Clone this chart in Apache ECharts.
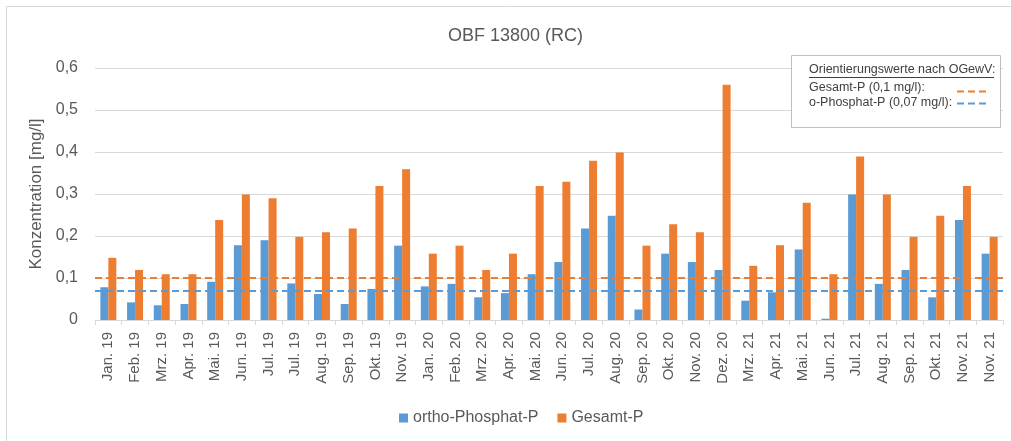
<!DOCTYPE html>
<html>
<head>
<meta charset="utf-8">
<script src="https://cdn.jsdelivr.net/npm/echarts@6/dist/echarts.min.js"></script>
<style>
  html, body { margin: 0; padding: 0; background: #fff; }
  #chart { width: 1011px; height: 441px; }
</style>
</head>
<body>
<div id="chart"></div>
<script>
// Monate (x-Achse)
var months = ['Jan. 19', 'Feb. 19', 'Mrz. 19', 'Apr. 19', 'Mai. 19', 'Jun. 19', 'Jul. 19', 'Jul. 19',
  'Aug. 19', 'Sep. 19', 'Okt. 19', 'Nov. 19', 'Jan. 20', 'Feb. 20', 'Mrz. 20', 'Apr. 20', 'Mai. 20',
  'Jun. 20', 'Jul. 20', 'Aug. 20', 'Sep. 20', 'Okt. 20', 'Nov. 20', 'Dez. 20', 'Mrz. 21', 'Apr. 21',
  'Mai. 21', 'Jun. 21', 'Jul. 21', 'Aug. 21', 'Sep. 21', 'Okt. 21', 'Nov. 21', 'Nov. 21'];

var orthoPhosphat = [0.078, 0.042, 0.035, 0.038, 0.091, 0.178, 0.19, 0.087, 0.062, 0.038, 0.074, 0.177,
  0.08, 0.086, 0.054, 0.064, 0.109, 0.138, 0.218, 0.248, 0.025, 0.158, 0.138, 0.119, 0.046, 0.066,
  0.168, 0.003, 0.299, 0.086, 0.119, 0.054, 0.238, 0.158];

var gesamtP = [0.148, 0.119, 0.109, 0.109, 0.238, 0.299, 0.29, 0.198, 0.209, 0.218, 0.319, 0.359,
  0.158, 0.177, 0.119, 0.158, 0.319, 0.329, 0.379, 0.399, 0.177, 0.228, 0.209, 0.56, 0.129, 0.178,
  0.279, 0.109, 0.389, 0.299, 0.198, 0.248, 0.319, 0.198];

// Orientierungswerte nach OGewV
var limitGesamtP = 0.1;
var limitOrtho = 0.071;

var yTicks = [0, 0.1, 0.2, 0.3, 0.4, 0.5, 0.6];

var font = 'Liberation Sans';
var grey = '#595959';
var blue = '#5B9BD5';
var orange = '#ED7D31';

var chart = echarts.init(document.getElementById('chart'));

var options = {
  animation: false,
  textStyle: { fontFamily: font, color: grey },
  title: {
    text: 'OBF 13800 (RC)',
    left: 443,
    top: 22,
    textStyle: { fontFamily: font, fontSize: 18, fontWeight: 'normal', color: grey }
  },
  legend: {
    top: 405,
    left: 394,
    itemWidth: 9,
    itemHeight: 9,
    itemGap: 19,
    icon: 'rect',
    textStyle: { fontFamily: font, fontSize: 16, color: grey },
    data: ['ortho-Phosphat-P', 'Gesamt-P']
  },
  grid: { left: 95, right: 8, top: 68, bottom: 121 },
  xAxis: {
    type: 'category',
    data: months,
    axisLine: { lineStyle: { color: '#D9D9D9' } },
    axisTick: { show: true, length: 5, lineStyle: { color: '#D9D9D9' } },
    axisLabel: { rotate: 90, interval: 0, fontSize: 15, color: grey, fontFamily: font, margin: 12 }
  },
  yAxis: {
    type: 'value',
    min: yTicks[0],
    max: yTicks[yTicks.length - 1],
    interval: 0.1,
    name: 'Konzentration [mg/l]',
    nameLocation: 'middle',
    nameGap: 43,
    nameTextStyle: { fontSize: 17, color: grey, fontFamily: font },
    axisLine: { show: false },
    axisTick: { show: false },
    splitLine: { lineStyle: { color: '#D9D9D9' } },
    axisLabel: {
      fontSize: 16, color: grey, fontFamily: font, margin: 17,
      formatter: function (v) { return String(Math.round(v * 10) / 10).replace('.', ','); }
    }
  },
  series: [
    {
      name: 'ortho-Phosphat-P',
      type: 'bar',
      data: orthoPhosphat,
      barWidth: 8,
      barGap: '0%',
      itemStyle: { color: blue },
      markLine: {
        silent: true,
        symbol: 'none',
        label: { show: false },
        lineStyle: { color: blue, type: [7, 4], width: 2 },
        data: [{ yAxis: limitOrtho }]
      }
    },
    {
      name: 'Gesamt-P',
      type: 'bar',
      data: gesamtP,
      barWidth: 8,
      itemStyle: { color: orange },
      z: 3,
      markLine: {
        silent: true,
        symbol: 'none',
        label: { show: false },
        lineStyle: { color: orange, type: [7, 4], width: 2 },
        data: [{ yAxis: limitGesamtP }]
      }
    }
  ],
  graphic: [
    // Rahmen des Diagramms
    { type: 'rect', shape: { x: 6.5, y: 6.5, width: 1100, height: 500 },
      style: { fill: null, stroke: '#D9D9D9', lineWidth: 1 }, silent: true },
    // Kasten mit Orientierungswerten
    { type: 'rect', shape: { x: 791.5, y: 55.5, width: 209, height: 72 },
      style: { fill: '#fff', stroke: '#BFBFBF', lineWidth: 1 }, z: 100 },
    { type: 'text', x: 809, y: 70, z: 101,
      style: { text: 'Orientierungswerte nach OGewV:', font: '12.5px ' + font, fill: '#404040', verticalAlign: 'middle' } },
    { type: 'line', shape: { x1: 809, y1: 77.5, x2: 994, y2: 77.5 }, z: 101,
      style: { stroke: '#404040', lineWidth: 1 } },
    { type: 'text', x: 809, y: 88, z: 101,
      style: { text: 'Gesamt-P (0,1 mg/l):', font: '12.5px ' + font, fill: '#404040', verticalAlign: 'middle' } },
    { type: 'text', x: 809, y: 103, z: 101,
      style: { text: 'o-Phosphat-P (0,07 mg/l):', font: '12.5px ' + font, fill: '#404040', verticalAlign: 'middle' } },
    { type: 'line', shape: { x1: 957, y1: 91.5, x2: 988, y2: 91.5 }, z: 101,
      style: { stroke: orange, lineWidth: 2, lineDash: [7, 4] } },
    { type: 'line', shape: { x1: 957, y1: 103.5, x2: 988, y2: 103.5 }, z: 101,
      style: { stroke: blue, lineWidth: 2, lineDash: [7, 4] } }
  ]
};

chart.setOption(options);
</script>
</body>
</html>
